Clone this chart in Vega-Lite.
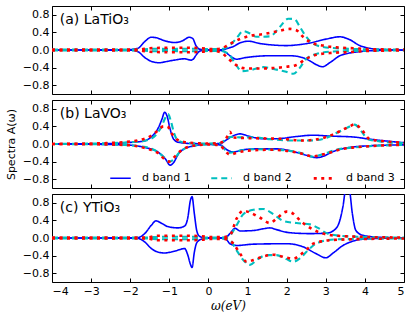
{
"$schema": "https://vega.github.io/schema/vega-lite/v6.json",
"padding": {"left": 4, "top": 5, "right": 5, "bottom": 2},
"spacing": 4,
"config": {
  "view": {"stroke": "#000", "strokeWidth": 1},
  "font": "DejaVu Sans",
  "axis": {"domain": false, "grid": false, "tickColor": "#000", "tickWidth": 1, "labelColor": "#000", "labelFont": "DejaVu Sans", "labelFontSize": 11, "titleFont": "DejaVu Sans", "titleFontSize": 11, "titleFontWeight": "normal", "titleColor": "#000", "tickSize": -4, "labelPadding": 7}
},
"datasets": {
"labels": [{"p": "a", "label": "(a) LaTiO₃"}, {"p": "b", "label": "(b) LaVO₃"}, {"p": "c", "label": "(c) YTiO₃"}],
"c": [
{"p":"a","b":"d band 1","s":"u","x":-4,"y":0},{"p":"a","b":"d band 1","s":"u","x":-2.2,"y":0.005},{"p":"a","b":"d band 1","s":"u","x":-1.95,"y":0.015},{"p":"a","b":"d band 1","s":"u","x":-1.8,"y":0.04},{"p":"a","b":"d band 1","s":"u","x":-1.63,"y":0.19},{"p":"a","b":"d band 1","s":"u","x":-1.46,"y":0.29},{"p":"a","b":"d band 1","s":"u","x":-1.34,"y":0.28},{"p":"a","b":"d band 1","s":"u","x":-1.12,"y":0.21},{"p":"a","b":"d band 1","s":"u","x":-0.87,"y":0.17},{"p":"a","b":"d band 1","s":"u","x":-0.66,"y":0.21},{"p":"a","b":"d band 1","s":"u","x":-0.49,"y":0.29},{"p":"a","b":"d band 1","s":"u","x":-0.4,"y":0.26},{"p":"a","b":"d band 1","s":"u","x":-0.32,"y":0.1},{"p":"a","b":"d band 1","s":"u","x":-0.23,"y":0.02},{"p":"a","b":"d band 1","s":"u","x":-0.1,"y":0.003},{"p":"a","b":"d band 1","s":"u","x":0.2,"y":0.003},{"p":"a","b":"d band 1","s":"u","x":0.38,"y":0.01},{"p":"a","b":"d band 1","s":"u","x":0.5,"y":0.04},{"p":"a","b":"d band 1","s":"u","x":0.64,"y":0.08},{"p":"a","b":"d band 1","s":"u","x":0.8,"y":0.16},{"p":"a","b":"d band 1","s":"u","x":1.02,"y":0.2},{"p":"a","b":"d band 1","s":"u","x":1.3,"y":0.15},{"p":"a","b":"d band 1","s":"u","x":1.57,"y":0.12},{"p":"a","b":"d band 1","s":"u","x":2.0,"y":0.1},{"p":"a","b":"d band 1","s":"u","x":2.3,"y":0.12},{"p":"a","b":"d band 1","s":"u","x":2.6,"y":0.16},{"p":"a","b":"d band 1","s":"u","x":3.02,"y":0.25},{"p":"a","b":"d band 1","s":"u","x":3.36,"y":0.3},{"p":"a","b":"d band 1","s":"u","x":3.6,"y":0.24},{"p":"a","b":"d band 1","s":"u","x":3.87,"y":0.1},{"p":"a","b":"d band 1","s":"u","x":4.12,"y":0.04},{"p":"a","b":"d band 1","s":"u","x":4.46,"y":0.01},{"p":"a","b":"d band 1","s":"u","x":5,"y":0},
{"p":"a","b":"d band 1","s":"l","x":-4,"y":0},{"p":"a","b":"d band 1","s":"l","x":-2.0,"y":-0.005},{"p":"a","b":"d band 1","s":"l","x":-1.8,"y":-0.04},{"p":"a","b":"d band 1","s":"l","x":-1.63,"y":-0.17},{"p":"a","b":"d band 1","s":"l","x":-1.42,"y":-0.27},{"p":"a","b":"d band 1","s":"l","x":-1.25,"y":-0.29},{"p":"a","b":"d band 1","s":"l","x":-1.12,"y":-0.27},{"p":"a","b":"d band 1","s":"l","x":-0.87,"y":-0.23},{"p":"a","b":"d band 1","s":"l","x":-0.61,"y":-0.2},{"p":"a","b":"d band 1","s":"l","x":-0.45,"y":-0.23},{"p":"a","b":"d band 1","s":"l","x":-0.38,"y":-0.2},{"p":"a","b":"d band 1","s":"l","x":-0.32,"y":-0.12},{"p":"a","b":"d band 1","s":"l","x":-0.23,"y":-0.03},{"p":"a","b":"d band 1","s":"l","x":-0.1,"y":-0.003},{"p":"a","b":"d band 1","s":"l","x":0.3,"y":-0.01},{"p":"a","b":"d band 1","s":"l","x":0.45,"y":-0.06},{"p":"a","b":"d band 1","s":"l","x":0.55,"y":-0.13},{"p":"a","b":"d band 1","s":"l","x":0.72,"y":-0.21},{"p":"a","b":"d band 1","s":"l","x":0.9,"y":-0.18},{"p":"a","b":"d band 1","s":"l","x":1.06,"y":-0.16},{"p":"a","b":"d band 1","s":"l","x":1.57,"y":-0.13},{"p":"a","b":"d band 1","s":"l","x":2.08,"y":-0.13},{"p":"a","b":"d band 1","s":"l","x":2.4,"y":-0.17},{"p":"a","b":"d band 1","s":"l","x":2.6,"y":-0.25},{"p":"a","b":"d band 1","s":"l","x":2.75,"y":-0.33},{"p":"a","b":"d band 1","s":"l","x":2.92,"y":-0.38},{"p":"a","b":"d band 1","s":"l","x":3.1,"y":-0.29},{"p":"a","b":"d band 1","s":"l","x":3.36,"y":-0.13},{"p":"a","b":"d band 1","s":"l","x":3.6,"y":-0.07},{"p":"a","b":"d band 1","s":"l","x":3.95,"y":-0.03},{"p":"a","b":"d band 1","s":"l","x":4.3,"y":-0.01},{"p":"a","b":"d band 1","s":"l","x":5,"y":0},
{"p":"a","b":"d band 2","s":"u","x":-4,"y":0.01},{"p":"a","b":"d band 2","s":"u","x":-1.7,"y":0.01},{"p":"a","b":"d band 2","s":"u","x":-1.4,"y":0.03},{"p":"a","b":"d band 2","s":"u","x":-1.0,"y":0.02},{"p":"a","b":"d band 2","s":"u","x":-0.6,"y":0.03},{"p":"a","b":"d band 2","s":"u","x":-0.3,"y":0.03},{"p":"a","b":"d band 2","s":"u","x":0,"y":0.02},{"p":"a","b":"d band 2","s":"u","x":0.3,"y":0.02},{"p":"a","b":"d band 2","s":"u","x":0.47,"y":0.06},{"p":"a","b":"d band 2","s":"u","x":0.6,"y":0.15},{"p":"a","b":"d band 2","s":"u","x":0.72,"y":0.27},{"p":"a","b":"d band 2","s":"u","x":0.89,"y":0.43},{"p":"a","b":"d band 2","s":"u","x":1.05,"y":0.38},{"p":"a","b":"d band 2","s":"u","x":1.23,"y":0.3},{"p":"a","b":"d band 2","s":"u","x":1.57,"y":0.31},{"p":"a","b":"d band 2","s":"u","x":1.83,"y":0.53},{"p":"a","b":"d band 2","s":"u","x":2.04,"y":0.71},{"p":"a","b":"d band 2","s":"u","x":2.2,"y":0.7},{"p":"a","b":"d band 2","s":"u","x":2.34,"y":0.52},{"p":"a","b":"d band 2","s":"u","x":2.5,"y":0.3},{"p":"a","b":"d band 2","s":"u","x":2.68,"y":0.14},{"p":"a","b":"d band 2","s":"u","x":2.93,"y":0.07},{"p":"a","b":"d band 2","s":"u","x":3.27,"y":0.04},{"p":"a","b":"d band 2","s":"u","x":3.8,"y":0.02},{"p":"a","b":"d band 2","s":"u","x":5,"y":0.01},
{"p":"a","b":"d band 2","s":"l","x":-4,"y":-0.01},{"p":"a","b":"d band 2","s":"l","x":-1.7,"y":-0.01},{"p":"a","b":"d band 2","s":"l","x":-1.4,"y":-0.03},{"p":"a","b":"d band 2","s":"l","x":-1.0,"y":-0.02},{"p":"a","b":"d band 2","s":"l","x":-0.6,"y":-0.03},{"p":"a","b":"d band 2","s":"l","x":-0.3,"y":-0.03},{"p":"a","b":"d band 2","s":"l","x":0,"y":-0.02},{"p":"a","b":"d band 2","s":"l","x":0.3,"y":-0.02},{"p":"a","b":"d band 2","s":"l","x":0.5,"y":-0.08},{"p":"a","b":"d band 2","s":"l","x":0.68,"y":-0.3},{"p":"a","b":"d band 2","s":"l","x":0.85,"y":-0.48},{"p":"a","b":"d band 2","s":"l","x":1.06,"y":-0.46},{"p":"a","b":"d band 2","s":"l","x":1.4,"y":-0.39},{"p":"a","b":"d band 2","s":"l","x":1.66,"y":-0.43},{"p":"a","b":"d band 2","s":"l","x":1.96,"y":-0.49},{"p":"a","b":"d band 2","s":"l","x":2.17,"y":-0.54},{"p":"a","b":"d band 2","s":"l","x":2.34,"y":-0.4},{"p":"a","b":"d band 2","s":"l","x":2.5,"y":-0.2},{"p":"a","b":"d band 2","s":"l","x":2.76,"y":-0.09},{"p":"a","b":"d band 2","s":"l","x":3.1,"y":-0.04},{"p":"a","b":"d band 2","s":"l","x":3.8,"y":-0.02},{"p":"a","b":"d band 2","s":"l","x":5,"y":-0.01},
{"p":"a","b":"d band 3","s":"u","x":-4,"y":0.01},{"p":"a","b":"d band 3","s":"u","x":-1.8,"y":0.01},{"p":"a","b":"d band 3","s":"u","x":-1.5,"y":0.04},{"p":"a","b":"d band 3","s":"u","x":-1.0,"y":0.05},{"p":"a","b":"d band 3","s":"u","x":-0.5,"y":0.05},{"p":"a","b":"d band 3","s":"u","x":-0.2,"y":0.04},{"p":"a","b":"d band 3","s":"u","x":0.1,"y":0.02},{"p":"a","b":"d band 3","s":"u","x":0.3,"y":0.03},{"p":"a","b":"d band 3","s":"u","x":0.55,"y":0.14},{"p":"a","b":"d band 3","s":"u","x":0.81,"y":0.25},{"p":"a","b":"d band 3","s":"u","x":1.06,"y":0.32},{"p":"a","b":"d band 3","s":"u","x":1.4,"y":0.36},{"p":"a","b":"d band 3","s":"u","x":1.74,"y":0.42},{"p":"a","b":"d band 3","s":"u","x":2.08,"y":0.48},{"p":"a","b":"d band 3","s":"u","x":2.25,"y":0.45},{"p":"a","b":"d band 3","s":"u","x":2.42,"y":0.3},{"p":"a","b":"d band 3","s":"u","x":2.6,"y":0.18},{"p":"a","b":"d band 3","s":"u","x":2.93,"y":0.1},{"p":"a","b":"d band 3","s":"u","x":3.27,"y":0.06},{"p":"a","b":"d band 3","s":"u","x":3.7,"y":0.04},{"p":"a","b":"d band 3","s":"u","x":4.12,"y":0.02},{"p":"a","b":"d band 3","s":"u","x":5,"y":0.01},
{"p":"a","b":"d band 3","s":"l","x":-4,"y":-0.01},{"p":"a","b":"d band 3","s":"l","x":-1.8,"y":-0.01},{"p":"a","b":"d band 3","s":"l","x":-1.5,"y":-0.04},{"p":"a","b":"d band 3","s":"l","x":-1.0,"y":-0.05},{"p":"a","b":"d band 3","s":"l","x":-0.5,"y":-0.05},{"p":"a","b":"d band 3","s":"l","x":-0.2,"y":-0.04},{"p":"a","b":"d band 3","s":"l","x":0.1,"y":-0.02},{"p":"a","b":"d band 3","s":"l","x":0.3,"y":-0.05},{"p":"a","b":"d band 3","s":"l","x":0.55,"y":-0.23},{"p":"a","b":"d band 3","s":"l","x":0.72,"y":-0.35},{"p":"a","b":"d band 3","s":"l","x":0.98,"y":-0.42},{"p":"a","b":"d band 3","s":"l","x":1.32,"y":-0.42},{"p":"a","b":"d band 3","s":"l","x":1.66,"y":-0.41},{"p":"a","b":"d band 3","s":"l","x":2.0,"y":-0.38},{"p":"a","b":"d band 3","s":"l","x":2.25,"y":-0.34},{"p":"a","b":"d band 3","s":"l","x":2.5,"y":-0.2},{"p":"a","b":"d band 3","s":"l","x":2.76,"y":-0.11},{"p":"a","b":"d band 3","s":"l","x":3.1,"y":-0.07},{"p":"a","b":"d band 3","s":"l","x":3.53,"y":-0.05},{"p":"a","b":"d band 3","s":"l","x":4.12,"y":-0.02},{"p":"a","b":"d band 3","s":"l","x":5,"y":-0.01},

{"p":"b","b":"d band 1","s":"u","x":-4,"y":0},{"p":"b","b":"d band 1","s":"u","x":-3,"y":0.005},{"p":"b","b":"d band 1","s":"u","x":-2.5,"y":0.01},{"p":"b","b":"d band 1","s":"u","x":-2.13,"y":0.03},{"p":"b","b":"d band 1","s":"u","x":-1.7,"y":0.06},{"p":"b","b":"d band 1","s":"u","x":-1.45,"y":0.17},{"p":"b","b":"d band 1","s":"u","x":-1.28,"y":0.37},{"p":"b","b":"d band 1","s":"u","x":-1.19,"y":0.56},{"p":"b","b":"d band 1","s":"u","x":-1.12,"y":0.72},{"p":"b","b":"d band 1","s":"u","x":-1.06,"y":0.64},{"p":"b","b":"d band 1","s":"u","x":-0.98,"y":0.34},{"p":"b","b":"d band 1","s":"u","x":-0.89,"y":0.11},{"p":"b","b":"d band 1","s":"u","x":-0.77,"y":0.04},{"p":"b","b":"d band 1","s":"u","x":-0.43,"y":0.01},{"p":"b","b":"d band 1","s":"u","x":0,"y":0.005},{"p":"b","b":"d band 1","s":"u","x":0.3,"y":0.01},{"p":"b","b":"d band 1","s":"u","x":0.47,"y":0.1},{"p":"b","b":"d band 1","s":"u","x":0.64,"y":0.19},{"p":"b","b":"d band 1","s":"u","x":0.81,"y":0.23},{"p":"b","b":"d band 1","s":"u","x":1.06,"y":0.17},{"p":"b","b":"d band 1","s":"u","x":1.4,"y":0.12},{"p":"b","b":"d band 1","s":"u","x":1.74,"y":0.12},{"p":"b","b":"d band 1","s":"u","x":2.25,"y":0.17},{"p":"b","b":"d band 1","s":"u","x":2.68,"y":0.2},{"p":"b","b":"d band 1","s":"u","x":3.1,"y":0.18},{"p":"b","b":"d band 1","s":"u","x":3.7,"y":0.16},{"p":"b","b":"d band 1","s":"u","x":4.12,"y":0.11},{"p":"b","b":"d band 1","s":"u","x":4.63,"y":0.06},{"p":"b","b":"d band 1","s":"u","x":5,"y":0.03},
{"p":"b","b":"d band 1","s":"l","x":-4,"y":0},{"p":"b","b":"d band 1","s":"l","x":-3,"y":-0.005},{"p":"b","b":"d band 1","s":"l","x":-2.13,"y":-0.02},{"p":"b","b":"d band 1","s":"l","x":-1.62,"y":-0.08},{"p":"b","b":"d band 1","s":"l","x":-1.28,"y":-0.19},{"p":"b","b":"d band 1","s":"l","x":-1.1,"y":-0.34},{"p":"b","b":"d band 1","s":"l","x":-0.98,"y":-0.48},{"p":"b","b":"d band 1","s":"l","x":-0.89,"y":-0.42},{"p":"b","b":"d band 1","s":"l","x":-0.77,"y":-0.23},{"p":"b","b":"d band 1","s":"l","x":-0.6,"y":-0.1},{"p":"b","b":"d band 1","s":"l","x":-0.34,"y":-0.04},{"p":"b","b":"d band 1","s":"l","x":-0.1,"y":-0.01},{"p":"b","b":"d band 1","s":"l","x":0.3,"y":-0.02},{"p":"b","b":"d band 1","s":"l","x":0.47,"y":-0.13},{"p":"b","b":"d band 1","s":"l","x":0.64,"y":-0.18},{"p":"b","b":"d band 1","s":"l","x":0.89,"y":-0.13},{"p":"b","b":"d band 1","s":"l","x":1.23,"y":-0.11},{"p":"b","b":"d band 1","s":"l","x":1.74,"y":-0.11},{"p":"b","b":"d band 1","s":"l","x":2.25,"y":-0.19},{"p":"b","b":"d band 1","s":"l","x":2.6,"y":-0.28},{"p":"b","b":"d band 1","s":"l","x":2.76,"y":-0.31},{"p":"b","b":"d band 1","s":"l","x":2.93,"y":-0.28},{"p":"b","b":"d band 1","s":"l","x":3.19,"y":-0.17},{"p":"b","b":"d band 1","s":"l","x":3.53,"y":-0.09},{"p":"b","b":"d band 1","s":"l","x":4.12,"y":-0.04},{"p":"b","b":"d band 1","s":"l","x":5,"y":-0.02},
{"p":"b","b":"d band 2","s":"u","x":-4,"y":0},{"p":"b","b":"d band 2","s":"u","x":-2.5,"y":0.02},{"p":"b","b":"d band 2","s":"u","x":-2.0,"y":0.04},{"p":"b","b":"d band 2","s":"u","x":-1.6,"y":0.08},{"p":"b","b":"d band 2","s":"u","x":-1.35,"y":0.2},{"p":"b","b":"d band 2","s":"u","x":-1.2,"y":0.4},{"p":"b","b":"d band 2","s":"u","x":-1.1,"y":0.6},{"p":"b","b":"d band 2","s":"u","x":-1.03,"y":0.68},{"p":"b","b":"d band 2","s":"u","x":-0.97,"y":0.55},{"p":"b","b":"d band 2","s":"u","x":-0.88,"y":0.25},{"p":"b","b":"d band 2","s":"u","x":-0.78,"y":0.08},{"p":"b","b":"d band 2","s":"u","x":-0.5,"y":0.02},{"p":"b","b":"d band 2","s":"u","x":0,"y":0.01},{"p":"b","b":"d band 2","s":"u","x":0.3,"y":0.02},{"p":"b","b":"d band 2","s":"u","x":0.38,"y":0.06},{"p":"b","b":"d band 2","s":"u","x":0.55,"y":0.16},{"p":"b","b":"d band 2","s":"u","x":0.81,"y":0.15},{"p":"b","b":"d band 2","s":"u","x":1.15,"y":0.15},{"p":"b","b":"d band 2","s":"u","x":1.57,"y":0.11},{"p":"b","b":"d band 2","s":"u","x":2.08,"y":0.08},{"p":"b","b":"d band 2","s":"u","x":2.6,"y":0.08},{"p":"b","b":"d band 2","s":"u","x":3.02,"y":0.14},{"p":"b","b":"d band 2","s":"u","x":3.27,"y":0.25},{"p":"b","b":"d band 2","s":"u","x":3.53,"y":0.36},{"p":"b","b":"d band 2","s":"u","x":3.74,"y":0.44},{"p":"b","b":"d band 2","s":"u","x":3.91,"y":0.29},{"p":"b","b":"d band 2","s":"u","x":4.08,"y":0.11},{"p":"b","b":"d band 2","s":"u","x":4.38,"y":0.06},{"p":"b","b":"d band 2","s":"u","x":5,"y":0.02},
{"p":"b","b":"d band 2","s":"l","x":-4,"y":0},{"p":"b","b":"d band 2","s":"l","x":-2.5,"y":-0.01},{"p":"b","b":"d band 2","s":"l","x":-1.6,"y":-0.07},{"p":"b","b":"d band 2","s":"l","x":-1.3,"y":-0.18},{"p":"b","b":"d band 2","s":"l","x":-1.1,"y":-0.33},{"p":"b","b":"d band 2","s":"l","x":-1.0,"y":-0.4},{"p":"b","b":"d band 2","s":"l","x":-0.9,"y":-0.36},{"p":"b","b":"d band 2","s":"l","x":-0.75,"y":-0.2},{"p":"b","b":"d band 2","s":"l","x":-0.6,"y":-0.1},{"p":"b","b":"d band 2","s":"l","x":-0.4,"y":-0.04},{"p":"b","b":"d band 2","s":"l","x":0,"y":-0.01},{"p":"b","b":"d band 2","s":"l","x":0.3,"y":-0.02},{"p":"b","b":"d band 2","s":"l","x":0.38,"y":-0.09},{"p":"b","b":"d band 2","s":"l","x":0.55,"y":-0.2},{"p":"b","b":"d band 2","s":"l","x":0.81,"y":-0.15},{"p":"b","b":"d band 2","s":"l","x":1.2,"y":-0.12},{"p":"b","b":"d band 2","s":"l","x":1.91,"y":-0.14},{"p":"b","b":"d band 2","s":"l","x":2.34,"y":-0.2},{"p":"b","b":"d band 2","s":"l","x":2.68,"y":-0.29},{"p":"b","b":"d band 2","s":"l","x":2.93,"y":-0.23},{"p":"b","b":"d band 2","s":"l","x":3.27,"y":-0.13},{"p":"b","b":"d band 2","s":"l","x":3.7,"y":-0.08},{"p":"b","b":"d band 2","s":"l","x":4.3,"y":-0.04},{"p":"b","b":"d band 2","s":"l","x":5,"y":-0.02},
{"p":"b","b":"d band 3","s":"u","x":-4,"y":0},{"p":"b","b":"d band 3","s":"u","x":-2.6,"y":0.02},{"p":"b","b":"d band 3","s":"u","x":-2.2,"y":0.04},{"p":"b","b":"d band 3","s":"u","x":-1.8,"y":0.08},{"p":"b","b":"d band 3","s":"u","x":-1.5,"y":0.17},{"p":"b","b":"d band 3","s":"u","x":-1.3,"y":0.3},{"p":"b","b":"d band 3","s":"u","x":-1.15,"y":0.4},{"p":"b","b":"d band 3","s":"u","x":-1.05,"y":0.4},{"p":"b","b":"d band 3","s":"u","x":-0.95,"y":0.25},{"p":"b","b":"d band 3","s":"u","x":-0.8,"y":0.1},{"p":"b","b":"d band 3","s":"u","x":-0.6,"y":0.04},{"p":"b","b":"d band 3","s":"u","x":-0.3,"y":0.02},{"p":"b","b":"d band 3","s":"u","x":0,"y":0.01},{"p":"b","b":"d band 3","s":"u","x":0.3,"y":0.03},{"p":"b","b":"d band 3","s":"u","x":0.45,"y":0.12},{"p":"b","b":"d band 3","s":"u","x":0.55,"y":0.28},{"p":"b","b":"d band 3","s":"u","x":0.62,"y":0.15},{"p":"b","b":"d band 3","s":"u","x":0.8,"y":0.14},{"p":"b","b":"d band 3","s":"u","x":1.2,"y":0.13},{"p":"b","b":"d band 3","s":"u","x":1.8,"y":0.12},{"p":"b","b":"d band 3","s":"u","x":2.42,"y":0.08},{"p":"b","b":"d band 3","s":"u","x":3.02,"y":0.16},{"p":"b","b":"d band 3","s":"u","x":3.36,"y":0.29},{"p":"b","b":"d band 3","s":"u","x":3.61,"y":0.4},{"p":"b","b":"d band 3","s":"u","x":3.74,"y":0.45},{"p":"b","b":"d band 3","s":"u","x":3.95,"y":0.29},{"p":"b","b":"d band 3","s":"u","x":4.12,"y":0.11},{"p":"b","b":"d band 3","s":"u","x":4.5,"y":0.06},{"p":"b","b":"d band 3","s":"u","x":5,"y":0.03},
{"p":"b","b":"d band 3","s":"l","x":-4,"y":0},{"p":"b","b":"d band 3","s":"l","x":-2.6,"y":-0.01},{"p":"b","b":"d band 3","s":"l","x":-2.0,"y":-0.03},{"p":"b","b":"d band 3","s":"l","x":-1.6,"y":-0.1},{"p":"b","b":"d band 3","s":"l","x":-1.3,"y":-0.2},{"p":"b","b":"d band 3","s":"l","x":-1.1,"y":-0.36},{"p":"b","b":"d band 3","s":"l","x":-1.0,"y":-0.4},{"p":"b","b":"d band 3","s":"l","x":-0.9,"y":-0.32},{"p":"b","b":"d band 3","s":"l","x":-0.7,"y":-0.15},{"p":"b","b":"d band 3","s":"l","x":-0.5,"y":-0.06},{"p":"b","b":"d band 3","s":"l","x":-0.3,"y":-0.03},{"p":"b","b":"d band 3","s":"l","x":0,"y":-0.01},{"p":"b","b":"d band 3","s":"l","x":0.3,"y":-0.03},{"p":"b","b":"d band 3","s":"l","x":0.4,"y":-0.13},{"p":"b","b":"d band 3","s":"l","x":0.55,"y":-0.24},{"p":"b","b":"d band 3","s":"l","x":0.72,"y":-0.2},{"p":"b","b":"d band 3","s":"l","x":1.0,"y":-0.15},{"p":"b","b":"d band 3","s":"l","x":1.6,"y":-0.13},{"p":"b","b":"d band 3","s":"l","x":2.3,"y":-0.2},{"p":"b","b":"d band 3","s":"l","x":2.68,"y":-0.28},{"p":"b","b":"d band 3","s":"l","x":3.0,"y":-0.22},{"p":"b","b":"d band 3","s":"l","x":3.4,"y":-0.12},{"p":"b","b":"d band 3","s":"l","x":4.12,"y":-0.05},{"p":"b","b":"d band 3","s":"l","x":5,"y":-0.02},

{"p":"c","b":"d band 1","s":"u","x":-4,"y":0},{"p":"c","b":"d band 1","s":"u","x":-2,"y":0.003},{"p":"c","b":"d band 1","s":"u","x":-1.8,"y":0.01},{"p":"c","b":"d band 1","s":"u","x":-1.63,"y":0.1},{"p":"c","b":"d band 1","s":"u","x":-1.46,"y":0.29},{"p":"c","b":"d band 1","s":"u","x":-1.34,"y":0.39},{"p":"c","b":"d band 1","s":"u","x":-1.21,"y":0.34},{"p":"c","b":"d band 1","s":"u","x":-1.04,"y":0.26},{"p":"c","b":"d band 1","s":"u","x":-0.78,"y":0.23},{"p":"c","b":"d band 1","s":"u","x":-0.61,"y":0.27},{"p":"c","b":"d band 1","s":"u","x":-0.53,"y":0.45},{"p":"c","b":"d band 1","s":"u","x":-0.46,"y":0.86},{"p":"c","b":"d band 1","s":"u","x":-0.42,"y":0.94},{"p":"c","b":"d band 1","s":"u","x":-0.36,"y":0.55},{"p":"c","b":"d band 1","s":"u","x":-0.3,"y":0.17},{"p":"c","b":"d band 1","s":"u","x":-0.23,"y":0.04},{"p":"c","b":"d band 1","s":"u","x":-0.1,"y":0.005},{"p":"c","b":"d band 1","s":"u","x":0.3,"y":0.005},{"p":"c","b":"d band 1","s":"u","x":0.45,"y":0.02},{"p":"c","b":"d band 1","s":"u","x":0.55,"y":0.1},{"p":"c","b":"d band 1","s":"u","x":0.68,"y":0.22},{"p":"c","b":"d band 1","s":"u","x":0.81,"y":0.16},{"p":"c","b":"d band 1","s":"u","x":1.15,"y":0.17},{"p":"c","b":"d band 1","s":"u","x":1.4,"y":0.21},{"p":"c","b":"d band 1","s":"u","x":1.57,"y":0.23},{"p":"c","b":"d band 1","s":"u","x":1.74,"y":0.19},{"p":"c","b":"d band 1","s":"u","x":2.08,"y":0.12},{"p":"c","b":"d band 1","s":"u","x":2.6,"y":0.1},{"p":"c","b":"d band 1","s":"u","x":3.02,"y":0.11},{"p":"c","b":"d band 1","s":"u","x":3.23,"y":0.19},{"p":"c","b":"d band 1","s":"u","x":3.36,"y":0.4},{"p":"c","b":"d band 1","s":"u","x":3.44,"y":0.72},{"p":"c","b":"d band 1","s":"u","x":3.52,"y":1.15},{"p":"c","b":"d band 1","s":"u","x":3.6,"y":1.1},{"p":"c","b":"d band 1","s":"u","x":3.68,"y":0.55},{"p":"c","b":"d band 1","s":"u","x":3.77,"y":0.17},{"p":"c","b":"d band 1","s":"u","x":3.95,"y":0.06},{"p":"c","b":"d band 1","s":"u","x":4.3,"y":0.02},{"p":"c","b":"d band 1","s":"u","x":5,"y":0},
{"p":"c","b":"d band 1","s":"l","x":-4,"y":0},{"p":"c","b":"d band 1","s":"l","x":-2,"y":-0.003},{"p":"c","b":"d band 1","s":"l","x":-1.8,"y":-0.01},{"p":"c","b":"d band 1","s":"l","x":-1.63,"y":-0.09},{"p":"c","b":"d band 1","s":"l","x":-1.46,"y":-0.24},{"p":"c","b":"d band 1","s":"l","x":-1.29,"y":-0.32},{"p":"c","b":"d band 1","s":"l","x":-1.12,"y":-0.34},{"p":"c","b":"d band 1","s":"l","x":-0.87,"y":-0.3},{"p":"c","b":"d band 1","s":"l","x":-0.61,"y":-0.24},{"p":"c","b":"d band 1","s":"l","x":-0.53,"y":-0.38},{"p":"c","b":"d band 1","s":"l","x":-0.46,"y":-0.6},{"p":"c","b":"d band 1","s":"l","x":-0.42,"y":-0.67},{"p":"c","b":"d band 1","s":"l","x":-0.36,"y":-0.32},{"p":"c","b":"d band 1","s":"l","x":-0.3,"y":-0.11},{"p":"c","b":"d band 1","s":"l","x":-0.19,"y":-0.03},{"p":"c","b":"d band 1","s":"l","x":-0.05,"y":-0.005},{"p":"c","b":"d band 1","s":"l","x":0.3,"y":-0.005},{"p":"c","b":"d band 1","s":"l","x":0.45,"y":-0.03},{"p":"c","b":"d band 1","s":"l","x":0.55,"y":-0.13},{"p":"c","b":"d band 1","s":"l","x":0.72,"y":-0.17},{"p":"c","b":"d band 1","s":"l","x":1.15,"y":-0.14},{"p":"c","b":"d band 1","s":"l","x":2.0,"y":-0.13},{"p":"c","b":"d band 1","s":"l","x":2.42,"y":-0.2},{"p":"c","b":"d band 1","s":"l","x":2.76,"y":-0.36},{"p":"c","b":"d band 1","s":"l","x":3.0,"y":-0.45},{"p":"c","b":"d band 1","s":"l","x":3.19,"y":-0.34},{"p":"c","b":"d band 1","s":"l","x":3.44,"y":-0.17},{"p":"c","b":"d band 1","s":"l","x":3.7,"y":-0.07},{"p":"c","b":"d band 1","s":"l","x":4.04,"y":-0.02},{"p":"c","b":"d band 1","s":"l","x":5,"y":0},
{"p":"c","b":"d band 2","s":"u","x":-4,"y":0.01},{"p":"c","b":"d band 2","s":"u","x":-1.6,"y":0.01},{"p":"c","b":"d band 2","s":"u","x":-1.2,"y":0.03},{"p":"c","b":"d band 2","s":"u","x":-0.8,"y":0.03},{"p":"c","b":"d band 2","s":"u","x":-0.4,"y":0.03},{"p":"c","b":"d band 2","s":"u","x":0,"y":0.01},{"p":"c","b":"d band 2","s":"u","x":0.4,"y":0.01},{"p":"c","b":"d band 2","s":"u","x":0.55,"y":0.06},{"p":"c","b":"d band 2","s":"u","x":0.72,"y":0.29},{"p":"c","b":"d band 2","s":"u","x":0.89,"y":0.54},{"p":"c","b":"d band 2","s":"u","x":1.15,"y":0.64},{"p":"c","b":"d band 2","s":"u","x":1.4,"y":0.66},{"p":"c","b":"d band 2","s":"u","x":1.66,"y":0.54},{"p":"c","b":"d band 2","s":"u","x":1.91,"y":0.39},{"p":"c","b":"d band 2","s":"u","x":2.25,"y":0.34},{"p":"c","b":"d band 2","s":"u","x":2.6,"y":0.31},{"p":"c","b":"d band 2","s":"u","x":2.8,"y":0.23},{"p":"c","b":"d band 2","s":"u","x":3.02,"y":0.11},{"p":"c","b":"d band 2","s":"u","x":3.27,"y":0.06},{"p":"c","b":"d band 2","s":"u","x":3.8,"y":0.03},{"p":"c","b":"d band 2","s":"u","x":5,"y":0.01},
{"p":"c","b":"d band 2","s":"l","x":-4,"y":-0.01},{"p":"c","b":"d band 2","s":"l","x":-1.6,"y":-0.01},{"p":"c","b":"d band 2","s":"l","x":-1.2,"y":-0.03},{"p":"c","b":"d band 2","s":"l","x":-0.8,"y":-0.03},{"p":"c","b":"d band 2","s":"l","x":-0.4,"y":-0.03},{"p":"c","b":"d band 2","s":"l","x":0,"y":-0.01},{"p":"c","b":"d band 2","s":"l","x":0.4,"y":-0.01},{"p":"c","b":"d band 2","s":"l","x":0.55,"y":-0.05},{"p":"c","b":"d band 2","s":"l","x":0.72,"y":-0.28},{"p":"c","b":"d band 2","s":"l","x":0.89,"y":-0.5},{"p":"c","b":"d band 2","s":"l","x":1.06,"y":-0.61},{"p":"c","b":"d band 2","s":"l","x":1.23,"y":-0.5},{"p":"c","b":"d band 2","s":"l","x":1.49,"y":-0.39},{"p":"c","b":"d band 2","s":"l","x":1.74,"y":-0.39},{"p":"c","b":"d band 2","s":"l","x":2.0,"y":-0.48},{"p":"c","b":"d band 2","s":"l","x":2.17,"y":-0.54},{"p":"c","b":"d band 2","s":"l","x":2.34,"y":-0.46},{"p":"c","b":"d band 2","s":"l","x":2.5,"y":-0.32},{"p":"c","b":"d band 2","s":"l","x":2.68,"y":-0.17},{"p":"c","b":"d band 2","s":"l","x":2.93,"y":-0.07},{"p":"c","b":"d band 2","s":"l","x":3.3,"y":-0.03},{"p":"c","b":"d band 2","s":"l","x":5,"y":-0.01},
{"p":"c","b":"d band 3","s":"u","x":-4,"y":0.01},{"p":"c","b":"d band 3","s":"u","x":-1.6,"y":0.01},{"p":"c","b":"d band 3","s":"u","x":-1.3,"y":0.05},{"p":"c","b":"d band 3","s":"u","x":-0.9,"y":0.05},{"p":"c","b":"d band 3","s":"u","x":-0.5,"y":0.05},{"p":"c","b":"d band 3","s":"u","x":-0.2,"y":0.04},{"p":"c","b":"d band 3","s":"u","x":0.1,"y":0.02},{"p":"c","b":"d band 3","s":"u","x":0.4,"y":0.02},{"p":"c","b":"d band 3","s":"u","x":0.55,"y":0.06},{"p":"c","b":"d band 3","s":"u","x":0.72,"y":0.44},{"p":"c","b":"d band 3","s":"u","x":0.89,"y":0.62},{"p":"c","b":"d band 3","s":"u","x":1.06,"y":0.58},{"p":"c","b":"d band 3","s":"u","x":1.32,"y":0.46},{"p":"c","b":"d band 3","s":"u","x":1.57,"y":0.34},{"p":"c","b":"d band 3","s":"u","x":1.74,"y":0.44},{"p":"c","b":"d band 3","s":"u","x":2.0,"y":0.6},{"p":"c","b":"d band 3","s":"u","x":2.17,"y":0.55},{"p":"c","b":"d band 3","s":"u","x":2.34,"y":0.4},{"p":"c","b":"d band 3","s":"u","x":2.6,"y":0.23},{"p":"c","b":"d band 3","s":"u","x":2.8,"y":0.14},{"p":"c","b":"d band 3","s":"u","x":2.93,"y":0.1},{"p":"c","b":"d band 3","s":"u","x":3.3,"y":0.05},{"p":"c","b":"d band 3","s":"u","x":3.8,"y":0.03},{"p":"c","b":"d band 3","s":"u","x":5,"y":0.01},
{"p":"c","b":"d band 3","s":"l","x":-4,"y":-0.01},{"p":"c","b":"d band 3","s":"l","x":-1.6,"y":-0.01},{"p":"c","b":"d band 3","s":"l","x":-1.3,"y":-0.05},{"p":"c","b":"d band 3","s":"l","x":-0.9,"y":-0.05},{"p":"c","b":"d band 3","s":"l","x":-0.5,"y":-0.05},{"p":"c","b":"d band 3","s":"l","x":-0.2,"y":-0.04},{"p":"c","b":"d band 3","s":"l","x":0.1,"y":-0.02},{"p":"c","b":"d band 3","s":"l","x":0.4,"y":-0.02},{"p":"c","b":"d band 3","s":"l","x":0.5,"y":-0.04},{"p":"c","b":"d band 3","s":"l","x":0.64,"y":-0.13},{"p":"c","b":"d band 3","s":"l","x":0.81,"y":-0.36},{"p":"c","b":"d band 3","s":"l","x":0.98,"y":-0.54},{"p":"c","b":"d band 3","s":"l","x":1.15,"y":-0.5},{"p":"c","b":"d band 3","s":"l","x":1.4,"y":-0.42},{"p":"c","b":"d band 3","s":"l","x":1.66,"y":-0.38},{"p":"c","b":"d band 3","s":"l","x":2.0,"y":-0.45},{"p":"c","b":"d band 3","s":"l","x":2.17,"y":-0.47},{"p":"c","b":"d band 3","s":"l","x":2.34,"y":-0.39},{"p":"c","b":"d band 3","s":"l","x":2.5,"y":-0.27},{"p":"c","b":"d band 3","s":"l","x":2.68,"y":-0.13},{"p":"c","b":"d band 3","s":"l","x":2.93,"y":-0.07},{"p":"c","b":"d band 3","s":"l","x":3.3,"y":-0.04},{"p":"c","b":"d band 3","s":"l","x":5,"y":-0.01}
]
},
"resolve": {"legend": {"color": "independent", "strokeDash": "independent", "strokeWidth": "independent"}},
"vconcat": [
{
  "width": 352, "height": 88,
  "resolve": {"axis": {"x": "independent", "y": "independent"}},
  "layer": [
    {"mark": {"type": "rule", "color": "#808080", "strokeWidth": 1.5},
     "encoding": {"y": {"datum": 0, "type": "quantitative", "scale": {"domain": [-1, 1]}, "axis": {"orient": "right", "labels": false, "title": null, "values": [-0.8, -0.4, 0, 0.4, 0.8]}}}},
    {"mark": {"type": "rule", "color": "#000", "strokeWidth": 1.2, "strokeDash": [4, 3]},
     "encoding": {"x": {"datum": 0, "type": "quantitative", "scale": {"domain": [-4, 5]}, "axis": {"orient": "top", "labels": false, "title": null, "values": [-4, -3, -2, -1, 0, 1, 2, 3, 4, 5]}}}},
    {"data": {"name": "c"},
     "transform": [{"filter": "datum.p == 'a'"}],
     "mark": {"type": "line", "interpolate": "monotone", "clip": true},
     "encoding": {
       "x": {"field": "x", "type": "quantitative", "scale": {"domain": [-4, 5]}, "axis": {"orient": "bottom", "labels": false, "title": null, "values": [-4, -3, -2, -1, 0, 1, 2, 3, 4, 5]}},
       "y": {"field": "y", "type": "quantitative", "scale": {"domain": [-1, 1]}, "axis": {"orient": "left", "title": null, "values": [-0.8, -0.4, 0, 0.4, 0.8], "format": ".1f"}},
       "color": {"field": "b", "type": "nominal", "scale": {"domain": ["d band 1", "d band 2", "d band 3"], "range": ["#0000ff", "#00bfbf", "#ff0000"]}, "legend": null},
       "strokeDash": {"field": "b", "type": "nominal", "scale": {"domain": ["d band 1", "d band 2", "d band 3"], "range": [[1, 0], [6, 4], [3, 4.5]]}, "legend": null},
       "strokeWidth": {"field": "b", "type": "ordinal", "scale": {"domain": ["d band 1", "d band 2", "d band 3"], "range": [1.6, 2.6, 3.8]}, "legend": null},
       "detail": {"field": "s", "type": "nominal"}
     }},
    {"data": {"name": "labels"},
     "transform": [{"filter": "datum.p == 'a'"}],
     "mark": {"type": "text", "align": "left", "baseline": "middle", "fontSize": 14, "font": "DejaVu Sans", "color": "#000"},
     "encoding": {"x": {"datum": -3.8, "type": "quantitative", "axis": null}, "y": {"datum": 0.68, "type": "quantitative", "axis": null}, "text": {"field": "label", "type": "nominal"}}}
  ]
},
{
  "width": 352, "height": 88,
  "resolve": {"axis": {"x": "independent", "y": "independent"}},
  "layer": [
    {"mark": {"type": "rule", "color": "#808080", "strokeWidth": 1.5},
     "encoding": {"y": {"datum": 0, "type": "quantitative", "scale": {"domain": [-1, 1]}, "axis": {"orient": "right", "labels": false, "title": null, "values": [-0.8, -0.4, 0, 0.4, 0.8]}}}},
    {"mark": {"type": "rule", "color": "#000", "strokeWidth": 1.2, "strokeDash": [4, 3]},
     "encoding": {"x": {"datum": 0, "type": "quantitative", "scale": {"domain": [-4, 5]}, "axis": {"orient": "top", "labels": false, "title": null, "values": [-4, -3, -2, -1, 0, 1, 2, 3, 4, 5]}}}},
    {"data": {"name": "c"},
     "transform": [{"filter": "datum.p == 'b'"}],
     "mark": {"type": "line", "interpolate": "monotone", "clip": true},
     "encoding": {
       "x": {"field": "x", "type": "quantitative", "scale": {"domain": [-4, 5]}, "axis": {"orient": "bottom", "labels": false, "title": null, "values": [-4, -3, -2, -1, 0, 1, 2, 3, 4, 5]}},
       "y": {"field": "y", "type": "quantitative", "scale": {"domain": [-1, 1]}, "axis": {"orient": "left", "title": "Spectra A(ω)", "titlePadding": 6, "values": [-0.8, -0.4, 0, 0.4, 0.8], "format": ".1f"}},
       "color": {"field": "b", "type": "nominal", "scale": {"domain": ["d band 1", "d band 2", "d band 3"], "range": ["#0000ff", "#00bfbf", "#ff0000"]},
         "legend": {"orient": "none", "legendX": 57, "legendY": 66, "direction": "horizontal", "title": null, "symbolType": "stroke", "symbolSize": 420, "labelFontSize": 11, "labelFont": "DejaVu Sans", "labelColor": "#000", "labelOffset": 10, "columnPadding": 16, "padding": 0}},
       "strokeDash": {"field": "b", "type": "nominal", "scale": {"domain": ["d band 1", "d band 2", "d band 3"], "range": [[1, 0], [6, 4], [3, 4.5]]},
         "legend": {"orient": "none", "legendX": 57, "legendY": 66, "direction": "horizontal", "title": null, "symbolType": "stroke", "symbolSize": 420, "labelFontSize": 11, "labelFont": "DejaVu Sans", "labelColor": "#000", "labelOffset": 10, "columnPadding": 16, "padding": 0}},
       "strokeWidth": {"field": "b", "type": "ordinal", "scale": {"domain": ["d band 1", "d band 2", "d band 3"], "range": [1.6, 2.6, 3.8]},
         "legend": {"orient": "none", "legendX": 57, "legendY": 66, "direction": "horizontal", "title": null, "symbolType": "stroke", "symbolSize": 420, "labelFontSize": 11, "labelFont": "DejaVu Sans", "labelColor": "#000", "labelOffset": 10, "columnPadding": 16, "padding": 0}},
       "detail": {"field": "s", "type": "nominal"}
     }},
    {"data": {"name": "labels"},
     "transform": [{"filter": "datum.p == 'b'"}],
     "mark": {"type": "text", "align": "left", "baseline": "middle", "fontSize": 14, "font": "DejaVu Sans", "color": "#000"},
     "encoding": {"x": {"datum": -3.8, "type": "quantitative", "axis": null}, "y": {"datum": 0.68, "type": "quantitative", "axis": null}, "text": {"field": "label", "type": "nominal"}}}
  ]
},
{
  "width": 352, "height": 88,
  "resolve": {"axis": {"x": "independent", "y": "independent"}},
  "layer": [
    {"mark": {"type": "rule", "color": "#808080", "strokeWidth": 1.5},
     "encoding": {"y": {"datum": 0, "type": "quantitative", "scale": {"domain": [-1, 1]}, "axis": {"orient": "right", "labels": false, "title": null, "values": [-0.8, -0.4, 0, 0.4, 0.8]}}}},
    {"mark": {"type": "rule", "color": "#000", "strokeWidth": 1.2, "strokeDash": [4, 3]},
     "encoding": {"x": {"datum": 0, "type": "quantitative", "scale": {"domain": [-4, 5]}, "axis": {"orient": "top", "labels": false, "title": null, "values": [-4, -3, -2, -1, 0, 1, 2, 3, 4, 5]}}}},
    {"data": {"name": "c"},
     "transform": [{"filter": "datum.p == 'c'"}],
     "mark": {"type": "line", "interpolate": "monotone", "clip": true},
     "encoding": {
       "x": {"field": "x", "type": "quantitative", "scale": {"domain": [-4, 5]}, "axis": {"orient": "bottom", "title": "ω(eV)", "titleFont": "DejaVu Serif", "titleFontStyle": "italic", "titleFontSize": 12, "titlePadding": 4, "values": [-4, -3, -2, -1, 0, 1, 2, 3, 4, 5], "format": "d"}},
       "y": {"field": "y", "type": "quantitative", "scale": {"domain": [-1, 1]}, "axis": {"orient": "left", "title": null, "values": [-0.8, -0.4, 0, 0.4, 0.8], "format": ".1f"}},
       "color": {"field": "b", "type": "nominal", "scale": {"domain": ["d band 1", "d band 2", "d band 3"], "range": ["#0000ff", "#00bfbf", "#ff0000"]}, "legend": null},
       "strokeDash": {"field": "b", "type": "nominal", "scale": {"domain": ["d band 1", "d band 2", "d band 3"], "range": [[1, 0], [6, 4], [3, 4.5]]}, "legend": null},
       "strokeWidth": {"field": "b", "type": "ordinal", "scale": {"domain": ["d band 1", "d band 2", "d band 3"], "range": [1.6, 2.6, 3.8]}, "legend": null},
       "detail": {"field": "s", "type": "nominal"}
     }},
    {"data": {"name": "labels"},
     "transform": [{"filter": "datum.p == 'c'"}],
     "mark": {"type": "text", "align": "left", "baseline": "middle", "fontSize": 14, "font": "DejaVu Sans", "color": "#000"},
     "encoding": {"x": {"datum": -3.8, "type": "quantitative", "axis": null}, "y": {"datum": 0.68, "type": "quantitative", "axis": null}, "text": {"field": "label", "type": "nominal"}}}
  ]
}
]
}
